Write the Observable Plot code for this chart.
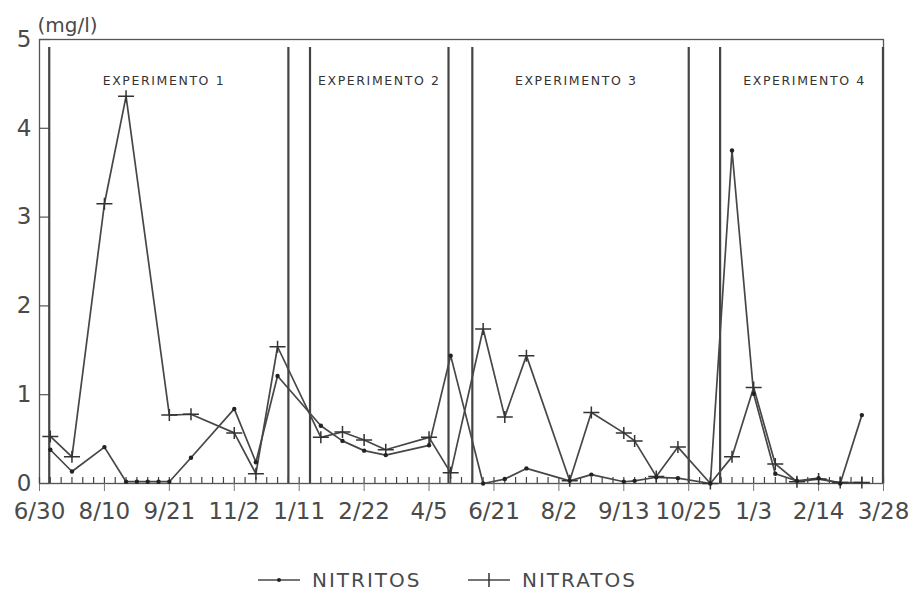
<!DOCTYPE html>
<html>
<head>
<meta charset="utf-8">
<script src="https://cdn.jsdelivr.net/npm/d3@7"></script>
<script src="https://cdn.jsdelivr.net/npm/@observablehq/plot@0.6"></script>
<style>
  html, body { margin: 0; padding: 0; background: #fff; }
  #grafico { width: 916px; }
  #leyenda { position: relative; width: 916px; height: 50px; font-family: "DejaVu Sans", sans-serif; color: #4a4a4a; }
  #leyenda .item { position: absolute; top: 18px; height: 24px; display: flex; align-items: center; }
  #leyenda .item span { font-size: 20px; letter-spacing: 2px; margin-left: 12px; }
</style>
</head>
<body>
<div id="grafico"></div>
<div id="leyenda"></div>
<script>
// Semanas de muestreo (posición en el eje, una marca por semana)
const etiquetasFecha = ["6/30", "8/10", "9/21", "11/2", "1/11", "2/22", "4/5",
                        "6/21", "8/2", "9/13", "10/25", "1/3", "2/14", "3/28"];
const semanasEtiquetadas = [0, 6, 12, 18, 24, 30, 36, 42, 48, 54, 60, 66, 72, 78];
const semanasTodas = d3.range(0, 79);

// Nitritos (mg/l)
const semanaNitritos = [1, 3, 6, 8, 9, 10, 11, 12, 14, 18, 20, 22, 26, 28, 30, 32, 36, 38,
                        41, 43, 45, 49, 51, 54, 55, 57, 59, 62, 64, 66, 68, 70, 72, 74, 76];
const nitritos = [0.38, 0.135, 0.41, 0.02, 0.02, 0.02, 0.02, 0.02, 0.29, 0.84, 0.24, 1.21,
                  0.65, 0.48, 0.37, 0.32, 0.43, 1.44, 0.0, 0.05, 0.17, 0.03, 0.10, 0.02,
                  0.03, 0.07, 0.06, 0.0, 3.75, 1.01, 0.11, 0.03, 0.06, 0.0, 0.77];

// Nitratos (mg/l)
const semanaNitratos = [1, 3, 6, 8, 12, 14, 18, 20, 22, 26, 28, 30, 32, 36, 38, 41, 43, 45,
                        49, 51, 54, 55, 57, 59, 62, 64, 66, 68, 70, 72, 74, 76];
const nitratos = [0.53, 0.30, 3.15, 4.36, 0.77, 0.78, 0.57, 0.11, 1.54, 0.52, 0.58, 0.49,
                  0.38, 0.52, 0.12, 1.74, 0.75, 1.44, 0.03, 0.80, 0.57, 0.48, 0.08, 0.41,
                  0.0, 0.30, 1.08, 0.22, 0.02, 0.05, 0.01, 0.01];

// Límites de cada experimento y sus rótulos
const limitesExperimento = [0.9, 23, 25, 37.8, 40, 60, 62.9, 77.95];
const experimentos = ["EXPERIMENTO 1", "EXPERIMENTO 2", "EXPERIMENTO 3", "EXPERIMENTO 4"];
const centroExperimento = [11.5, 31.4, 49.6, 70.7];

const series = ["NITRITOS", "NITRATOS"];
const yTicks = [0, 1, 2, 3, 4, 5];

const filasNitritos = semanaNitritos.map((s, k) => ({semana: s, valor: nitritos[k]}));
const filasNitratos = semanaNitratos.map((s, k) => ({semana: s, valor: nitratos[k]}));

// Cruz algo más ancha que alta para los nitratos
const cruz = {
  draw(ctx) {
    ctx.moveTo(-8, 0); ctx.lineTo(8, 0);
    ctx.moveTo(0, -6); ctx.lineTo(0, 6);
  }
};

const W = 916, H = 550;
const mL = 39, mR = 33, mT = 39, mB = 67;
const anchoPlot = W - mL - mR, altoPlot = H - mT - mB;
const tinta = "#4a4a4a", trazo = "#474747";

const grafico = Plot.plot({
  width: W, height: H,
  marginLeft: mL, marginRight: mR, marginTop: mT, marginBottom: mB,
  x: {domain: [0, 78]},
  y: {domain: [0, 5]},
  style: {fontFamily: "DejaVu Sans, sans-serif", color: tinta, background: "#fff"},
  marks: [
    Plot.frame({stroke: "#555", strokeWidth: 1.3}),
    // marcas semanales hacia arriba sobre el eje
    Plot.ruleX(semanasTodas, {x: d => d, insetTop: altoPlot - 6, stroke: "#444", strokeWidth: 1.2}),
    Plot.axisX({
      ticks: semanasEtiquetadas,
      tickFormat: d => etiquetasFecha[semanasEtiquetadas.indexOf(d)],
      tickSize: 8, tickPadding: 11, fontSize: 23, label: null, stroke: "#777"
    }),
    Plot.axisY({ticks: yTicks, tickFormat: d3.format("d"), tickSize: 0, tickPadding: 8, fontSize: 23, label: null}),
    Plot.ruleY(yTicks, {y: d => d, insetRight: anchoPlot - 11, stroke: "#555", strokeWidth: 1.2}),
    Plot.text(["(mg/l)"], {frameAnchor: "top-left", dx: -2, dy: -22, textAnchor: "start", fontSize: 20, fill: tinta}),
    // separaciones entre experimentos
    Plot.ruleX(limitesExperimento, {x: d => d, insetTop: 8, stroke: "#444", strokeWidth: 2.2}),
    Plot.text(experimentos, {
      x: (d, i) => centroExperimento[i], text: d => d,
      frameAnchor: "top", dy: 37, fontSize: 12.5, fill: "#333"
    }),
    Plot.line(filasNitratos, {x: "semana", y: "valor", stroke: trazo, strokeWidth: 1.7}),
    Plot.line(filasNitritos, {x: "semana", y: "valor", stroke: trazo, strokeWidth: 1.7}),
    Plot.dot(filasNitratos, {x: "semana", y: "valor", symbol: cruz, stroke: "#333", strokeWidth: 1.5, fill: "none"}),
    Plot.dot(filasNitritos, {x: "semana", y: "valor", r: 2.2, fill: "#222", stroke: "none"})
  ]
});

// rótulos de experimento con letras espaciadas
grafico.querySelectorAll("text").forEach(t => {
  if (experimentos.includes(t.textContent)) t.setAttribute("letter-spacing", "1.6");
});
document.getElementById("grafico").appendChild(grafico);

// Leyenda
const leyenda = document.getElementById("leyenda");
const posicionesLeyenda = [258, 468];
series.forEach((nombre, k) => {
  const item = document.createElement("div");
  item.className = "item";
  item.style.left = posicionesLeyenda[k] + "px";
  const ns = "http://www.w3.org/2000/svg";
  const s = document.createElementNS(ns, "svg");
  s.setAttribute("width", 42); s.setAttribute("height", 24);
  const l = document.createElementNS(ns, "line");
  l.setAttribute("x1", 0); l.setAttribute("x2", 42); l.setAttribute("y1", 12); l.setAttribute("y2", 12);
  l.setAttribute("stroke", trazo); l.setAttribute("stroke-width", 1.5);
  s.appendChild(l);
  if (k === 0) {
    const c = document.createElementNS(ns, "circle");
    c.setAttribute("cx", 21); c.setAttribute("cy", 12); c.setAttribute("r", 2); c.setAttribute("fill", "#222");
    s.appendChild(c);
  } else {
    const p = document.createElementNS(ns, "path");
    p.setAttribute("d", "M21,5V19");
    p.setAttribute("stroke", "#333"); p.setAttribute("stroke-width", 1.5);
    s.appendChild(p);
  }
  item.appendChild(s);
  const t = document.createElement("span");
  t.textContent = nombre;
  item.appendChild(t);
  leyenda.appendChild(item);
});
</script>
</body>
</html>
